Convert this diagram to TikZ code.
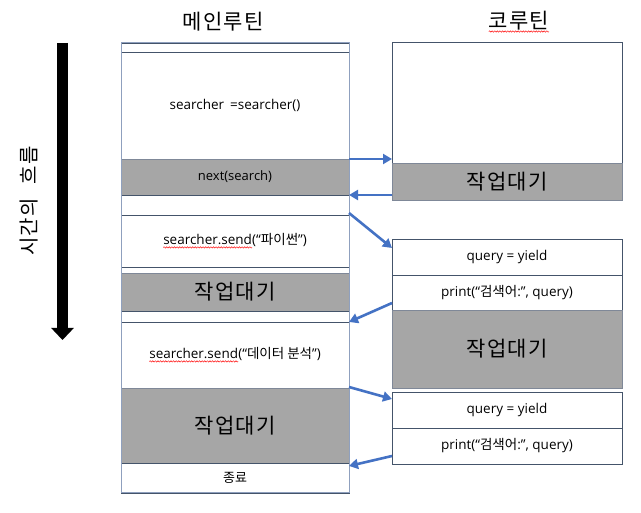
\documentclass[tikz,border=0pt]{standalone}
\usepackage{fontspec}
\setmainfont{Open Sans}
\newfontfamily\kr{Noto Sans CJK KR}
\newfontfamily\krb{Noto Sans CJK KR}[LetterSpace=6]
\usetikzlibrary{arrows.meta,decorations.pathmorphing}
\definecolor{linec}{HTML}{44546A}
\definecolor{outerc}{HTML}{8FA0BE}
\definecolor{grayf}{HTML}{A6A6A6}
\definecolor{grayl}{HTML}{7F8898}
\definecolor{arrowc}{HTML}{4472C4}
\newcommand\redwave[1]{\tikz[baseline=(wv.base)]{\node[draw=none, fill=none, minimum width=0pt, minimum height=0pt, inner sep=0pt, outer sep=0pt] (wv) {#1};
  \draw[draw=red, line width=0.45pt, decorate, decoration={snake, amplitude=0.7pt, segment length=2.6pt}] ([yshift=-2.6pt]wv.base west) -- ([yshift=-2.6pt]wv.base east);}}
\tikzset{
  seg/.style={draw=linec, line width=0.8pt, inner sep=0pt, outer sep=0pt, anchor=center},
  mseg/.style={seg, minimum width=228pt},
  cseg/.style={seg, minimum width=230pt},
  busy/.style={fill=grayf, draw=grayl},
  small/.style={font=\fontsize{13}{15}\selectfont},
  mid/.style={font=\fontsize{13.5}{16}\selectfont},
  big/.style={font=\krb\fontsize{21}{24}\selectfont},
  flow/.style={draw=arrowc, line width=2.6pt, -{Triangle[length=9pt,width=10pt]}},
}
\begin{document}
\begin{tikzpicture}[x=1pt,y=-1pt]
\useasboundingbox (0,0) rectangle (641,513);
% titles
\node[big] (t1) at (223,22) {메인루틴};
\node[big] (t2) at (519,22) {\redwave{코루틴}};
% main routine column
\node[mseg, minimum height=9pt] (m0) at (235,47.5) {};
\node[mseg, minimum height=107pt, mid] (m1) at (235,105.5) {searcher\hspace{6pt}=searcher()};
\node[mseg, busy, minimum height=36pt, small] (m2) at (235,177) {next(search)};
\node[mseg, minimum height=20pt] (m3) at (235,205) {};
\node[mseg, minimum height=52pt, mid] (m4) at (235,241) {\redwave{searcher.send}(“{\kr 파이썬}”)};
\node[mseg, minimum height=6pt] (m5) at (235,270) {};
\node[mseg, busy, minimum height=38pt, big] (m6) at (235,292) {작업대기};
\node[mseg, minimum height=11pt] (m7) at (235,316.5) {};
\node[mseg, minimum height=66pt, mid] (m8) at (235,355) {\redwave{searcher.send}(“{\kr 데이터 분석}”)};
\node[mseg, busy, minimum height=75pt, big] (m9) at (235,425.5) {작업대기};
\node[mseg, minimum height=30pt, font=\kr\fontsize{13}{15}\selectfont] (m10) at (235,478) {종료};
\draw[outerc, line width=1pt] (m0.north west) rectangle (m10.south east);
% coroutine column
\node[cseg, minimum height=121pt] (c1) at (507,102.5) {};
\node[cseg, busy, minimum height=37pt, big] (c2) at (507,181.5) {작업대기};
\node[cseg, minimum height=36pt, mid] (c3) at (507,257) {query = yield};
\node[cseg, minimum height=35pt, mid] (c4) at (507,292.5) {print(“{\kr 검색어}:”, query)};
\node[cseg, busy, minimum height=78pt, big] (c5) at (507,349) {작업대기};
\node[cseg, minimum height=36pt, mid] (c6) at (507,410) {query = yield};
\node[cseg, minimum height=36pt, mid] (c7) at (507,446) {print(“{\kr 검색어}:”, query)};
% transfer arrows
\draw[flow] (m2.north east) -- (m2.north east -| c1.west);
\draw[flow] (c2.west |- m2.south) -- (m2.south east);
\draw[flow] ([yshift=2pt]m4.north east) -- ([yshift=-9pt]c3.north west);
\draw[flow] ([yshift=7pt]c4.south west) -- (m8.north east);
\draw[flow] ([yshift=1pt]m8.south east) -- ([yshift=-7pt]c6.north west);
\draw[flow] ([yshift=8pt]c7.south west) -- ([yshift=-3pt]m10.north east);
% time arrow
\coordinate (ts) at (62.5,43);
\coordinate (te) at (62.5,340);
\draw[line width=11pt, -{Triangle[length=12pt,width=22pt]}] (ts) -- (te);
\node[rotate=90, font=\krb\fontsize{20}{22}\selectfont] (tl) at (29,201) {시간의\hspace{8pt} 흐름};
\end{tikzpicture}
\end{document}
